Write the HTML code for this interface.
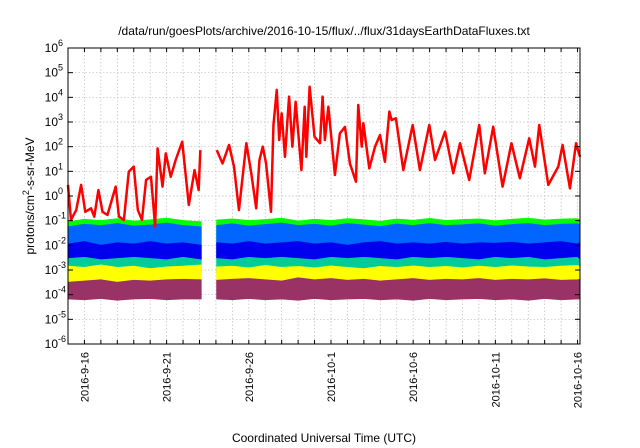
<!DOCTYPE html>
<html><head><meta charset="utf-8"><style>
html,body{margin:0;padding:0;background:#fff;}
svg{display:block;font-family:"Liberation Sans",sans-serif;}
</style></head><body>
<svg id="chart" width="640" height="448" viewBox="0 0 640 448" xmlns="http://www.w3.org/2000/svg">
<text x="324" y="35" font-size="12" text-anchor="middle">/data/run/goesPlots/archive/2016-10-15/flux/../flux/31daysEarthDataFluxes.txt</text>
<text transform="translate(34,196) rotate(-90)" font-size="12" text-anchor="middle">protons/cm<tspan dy="-5" font-size="9">2</tspan><tspan dy="5">-s-sr-MeV</tspan></text>
<text x="324" y="442" font-size="12" text-anchor="middle">Coordinated Universal Time (UTC)</text>
<g id="grid"></g><g id="series"></g><g id="axes"></g>
</svg>
<script>
const xTickDays = [1, 6, 11, 16, 21, 26, 31];
const xTickLabels = ["2016-9-16","2016-9-21","2016-9-26","2016-10-1","2016-10-6","2016-10-11","2016-10-16"];
const yExponents = [-6,-5,-4,-3,-2,-1,0,1,2,3,4,5,6];
const redDays = [0,0.18,0.5,0.8,1.05,1.4,1.6,1.85,2.1,2.4,2.9,3.1,3.4,3.7,4.0,4.25,4.5,4.75,5.05,5.3,5.45,5.75,5.95,6.25,6.55,6.95,7.35,7.7,7.95,8.05,
 9.05,9.4,9.8,10.1,10.4,10.85,11.15,11.45,11.65,11.85,12.05,12.35,12.5,12.7,12.85,13.0,13.2,13.45,13.65,13.85,14.2,14.4,14.5,14.7,15.0,15.33,15.49,15.63,15.84,16.24,16.54,16.85,17.15,17.52,17.66,17.87,17.97,18.33,18.68,18.98,19.28,19.55,19.69,19.95,20.4,20.97,21.41,21.98,22.33,22.94,23.44,23.85,24.41,25.02,25.36,25.87,26.44,26.98,27.49,28.06,28.41,28.67,29.22,29.83,30.09,30.54,30.91,31.15];
const redLog = [0.45,-0.97,-0.57,0.45,-0.64,-0.5,-0.84,0.24,-0.64,-0.77,0.38,-0.84,-0.97,0.99,1.19,-0.57,-0.97,0.65,0.78,-1.24,1.93,0.38,1.73,0.78,1.46,2.2,-0.36,1.05,0.24,1.86,
 1.86,1.32,2.07,1.19,-0.57,2.14,0.92,-0.5,1.46,2.0,1.32,-0.64,2.88,4.3,2.27,3.35,1.59,4.03,2.0,3.82,1.05,3.62,1.59,4.43,2.4,2.14,4.03,2.27,3.62,0.85,2.54,2.8,1.32,0.58,3.69,2.0,2.95,1.12,2.0,2.47,1.39,3.42,3.08,3.15,1.05,2.88,1.05,2.88,1.46,2.61,0.92,2.14,0.65,2.88,0.92,2.81,0.38,2.14,0.72,2.34,1.19,2.88,0.45,1.19,2.07,0.31,2.14,1.59];
const bandDays = [0,1,2,3,4,5,6,7,8.1, 9.05,10,11,12,13,14,15,16,17,18,19,20,21,22,23,24,25,26,27,28,29,30,31,31.15];
const greenHi = [-1.05,-0.95,-1.0,-0.92,-1.02,-0.97,-0.9,-1.0,-1.05, -0.98,-0.93,-1.0,-0.96,-0.9,-1.02,-0.95,-1.0,-0.92,-0.97,-1.03,-0.94,-0.99,-0.91,-1.0,-0.96,-0.93,-1.01,-0.95,-0.9,-0.98,-0.94,-0.92,-0.97];
const greenLo = [-1.8,-1.8,-1.8,-1.8,-1.8,-1.8,-1.8,-1.8,-1.8, -1.8,-1.8,-1.8,-1.8,-1.8,-1.8,-1.8,-1.8,-1.8,-1.8,-1.8,-1.8,-1.8,-1.8,-1.8,-1.8,-1.8,-1.8,-1.8,-1.8,-1.8,-1.8,-1.8,-1.8];
const lblueHi = [-1.25,-1.15,-1.2,-1.12,-1.22,-1.18,-1.1,-1.2,-1.25, -1.2,-1.13,-1.22,-1.16,-1.1,-1.2,-1.15,-1.22,-1.12,-1.18,-1.24,-1.14,-1.2,-1.12,-1.2,-1.17,-1.13,-1.22,-1.16,-1.12,-1.2,-1.15,-1.13,-1.18];
const lblueLo = [-2.5,-2.5,-2.5,-2.5,-2.5,-2.5,-2.5,-2.5,-2.5, -2.5,-2.5,-2.5,-2.5,-2.5,-2.5,-2.5,-2.5,-2.5,-2.5,-2.5,-2.5,-2.5,-2.5,-2.5,-2.5,-2.5,-2.5,-2.5,-2.5,-2.5,-2.5,-2.5,-2.5];
const tealHi = [-2.4,-2.45,-2.35,-2.5,-2.4,-2.42,-2.38,-2.45,-2.5, -2.42,-2.38,-2.45,-2.4,-2.35,-2.45,-2.4,-2.42,-2.38,-2.45,-2.4,-2.36,-2.44,-2.4,-2.38,-2.45,-2.4,-2.42,-2.37,-2.45,-2.4,-2.38,-2.42,-2.45];
const tealLo = [-3.1,-3.1,-3.1,-3.1,-3.1,-3.1,-3.1,-3.1,-3.1, -3.1,-3.1,-3.1,-3.1,-3.1,-3.1,-3.1,-3.1,-3.1,-3.1,-3.1,-3.1,-3.1,-3.1,-3.1,-3.1,-3.1,-3.1,-3.1,-3.1,-3.1,-3.1,-3.1,-3.1];
const dblueHi = [-1.95,-1.85,-2.0,-1.9,-1.95,-1.85,-1.95,-1.9,-2.0, -1.9,-1.95,-1.85,-1.95,-1.9,-1.85,-1.95,-1.9,-2.0,-1.9,-1.85,-1.95,-1.9,-1.95,-1.88,-1.95,-1.9,-1.92,-1.88,-1.95,-1.9,-1.85,-1.95,-1.9];
const dblueLo = [-2.5,-2.45,-2.55,-2.5,-2.45,-2.5,-2.55,-2.45,-2.55, -2.5,-2.55,-2.45,-2.5,-2.45,-2.5,-2.55,-2.45,-2.5,-2.45,-2.5,-2.55,-2.45,-2.5,-2.45,-2.5,-2.55,-2.45,-2.5,-2.45,-2.55,-2.5,-2.45,-2.55];
const yellowHi = [-2.85,-2.9,-2.8,-2.9,-2.85,-2.95,-2.88,-2.85,-2.8, -2.88,-2.85,-2.92,-2.82,-2.9,-2.86,-2.92,-2.84,-2.9,-2.95,-2.86,-2.9,-2.84,-2.9,-2.86,-2.92,-2.85,-2.9,-2.84,-2.88,-2.9,-2.85,-2.82,-2.86];
const yellowLo = [-3.55,-3.55,-3.55,-3.55,-3.55,-3.55,-3.55,-3.55,-3.55, -3.55,-3.55,-3.55,-3.55,-3.55,-3.55,-3.55,-3.55,-3.55,-3.55,-3.55,-3.55,-3.55,-3.55,-3.55,-3.55,-3.55,-3.55,-3.55,-3.55,-3.55,-3.55,-3.55,-3.55];
const maroonHi = [-3.5,-3.45,-3.4,-3.5,-3.42,-3.45,-3.4,-3.38,-3.4, -3.42,-3.38,-3.35,-3.4,-3.45,-3.32,-3.4,-3.35,-3.42,-3.38,-3.45,-3.4,-3.35,-3.42,-3.38,-3.4,-3.35,-3.42,-3.38,-3.4,-3.36,-3.42,-3.4,-3.38];
const maroonLo = [-4.17,-4.2,-4.15,-4.22,-4.17,-4.15,-4.2,-4.17,-4.17, -4.17,-4.2,-4.15,-4.2,-4.17,-4.22,-4.15,-4.2,-4.17,-4.15,-4.2,-4.17,-4.22,-4.15,-4.2,-4.17,-4.15,-4.2,-4.17,-4.22,-4.15,-4.2,-4.17,-4.17];

const X0=68, X1=580, Y0=48, Y1=344, DAYMAX=31.15;
const NS="http://www.w3.org/2000/svg";
function xs(d){return X0+(X1-X0)*d/DAYMAX;}
function ys(l){return Y1-(Y1-Y0)*(l+6)/12;}
function mk(tag,attrs,parent){const e=document.createElementNS(NS,tag);for(const k in attrs)e.setAttribute(k,attrs[k]);parent.appendChild(e);return e;}
const grid=document.getElementById('grid'), ser=document.getElementById('series'), ax=document.getElementById('axes');

for(let d=1; d<=31; d++){
  const g=mk('line',{x1:xs(d),x2:xs(d),y1:Y0,y2:Y1,stroke:'#bbb','stroke-width':0.7,'stroke-dasharray':'1.5,2'},grid);
  
  
}
yExponents.forEach(e=>{
  if(e>-6&&e<6){const g=mk('line',{x1:X0,x2:X1,y1:ys(e),y2:ys(e),stroke:'#bbb','stroke-width':0.7,'stroke-dasharray':'1.5,2'},grid);
  
  }
});

function band(hi,lo,color,name){
  const segs=[[]];
  bandDays.forEach((d,i)=>{ if(i>0 && bandDays[i-1]<8.5 && d>=8.5) segs.push([]); segs[segs.length-1].push(i);});
  segs.forEach(s=>{
    let pts=s.map(i=>xs(bandDays[i])+','+ys(hi[i]));
    pts=pts.concat(s.slice().reverse().map(i=>xs(bandDays[i])+','+ys(lo[i])));
    const p=mk('polygon',{points:pts.join(' '),fill:color,stroke:color,'stroke-width':1},ser);
    
    
  });
}
band(greenHi,greenLo,'#00ff00','green-series');
band(lblueHi,lblueLo,'#0066ff','lightblue-series');
band(tealHi,tealLo,'#00cc99','teal-series');
band(dblueHi,dblueLo,'#0000ee','darkblue-series');
band(yellowHi,yellowLo,'#ffff00','yellow-series');
band(maroonHi,maroonLo,'#993366','maroon-series');

let segA=[],segB=[];
redDays.forEach((d,i)=>{(d<8.5?segA:segB).push(xs(d)+','+ys(redLog[i]));});
[segA,segB].forEach(s=>{
  const p=mk('polyline',{points:s.join(' '),fill:'none',stroke:'#ff0000','stroke-width':2.5,'stroke-linejoin':'round'},ser);
  
  
});

const frame=mk('rect',{x:X0,y:Y0,width:X1-X0,height:Y1-Y0,fill:'none',stroke:'#000','stroke-width':1},ax);


for(let d=1; d<=31; d++){
  mk('line',{x1:xs(d),x2:xs(d),y1:Y1,y2:Y1-4,stroke:'#000'},ax);
  mk('line',{x1:xs(d),x2:xs(d),y1:Y0,y2:Y0+4,stroke:'#000'},ax);
}
yExponents.forEach(e=>{
  mk('line',{x1:X0,x2:X0+5,y1:ys(e),y2:ys(e),stroke:'#000'},ax);
  mk('line',{x1:X1,x2:X1-5,y1:ys(e),y2:ys(e),stroke:'#000'},ax);
  const t=mk('text',{x:58,y:ys(e)+4,'font-size':12,'text-anchor':'end'},ax);
  
  
  t.textContent='10';
  const s=mk('tspan',{x:58,dy:-6,'font-size':9,'text-anchor':'start'},t);
  s.textContent=String(e);
});
xTickDays.forEach((d,i)=>{
  const t=mk('text',{transform:'translate('+(xs(d)+4)+',352) rotate(-90)','font-size':11,'text-anchor':'end'},ax);
  
  
  t.textContent=xTickLabels[i];
});
</script>
</body></html>
